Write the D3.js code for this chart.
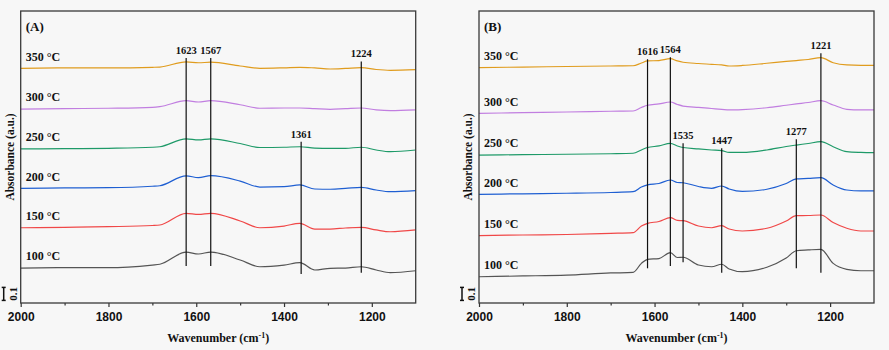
<!DOCTYPE html>
<html>
<head>
<meta charset="utf-8">
<script src="https://cdn.jsdelivr.net/npm/d3@7"></script>
<style>
body { margin: 0; background: #f7f7f7; }
svg { display: block; font-family: "Liberation Serif", "Times New Roman", serif; font-weight: bold; }
</style>
</head>
<body>
<div id="chart"></div>
<script>
const temps = ["100 °C", "150 °C", "200 °C", "250 °C", "300 °C", "350 °C"];
const colors = ["#555555", "#f04848", "#1f5fd2", "#1e9a68", "#c17ee0", "#e09c1e"];

// panel A, absorbance (stacked, a.u.)
const wnA = [2000, 1900, 1800, 1700, 1683, 1623, 1595, 1567, 1500, 1455, 1400, 1364, 1330, 1295, 1260, 1224, 1190, 1158, 1100];
const specA = [
    [0.269, 0.272, 0.272, 0.292, 0.298, 0.391, 0.377, 0.392, 0.331, 0.279, 0.292, 0.310, 0.254, 0.267, 0.269, 0.279, 0.254, 0.233, 0.248],
    [0.579, 0.582, 0.587, 0.596, 0.600, 0.690, 0.681, 0.690, 0.631, 0.579, 0.592, 0.613, 0.569, 0.569, 0.577, 0.582, 0.562, 0.548, 0.562],
    [0.882, 0.885, 0.887, 0.898, 0.902, 0.978, 0.964, 0.979, 0.938, 0.892, 0.895, 0.908, 0.877, 0.875, 0.881, 0.890, 0.869, 0.856, 0.864],
    [1.185, 1.187, 1.190, 1.198, 1.202, 1.262, 1.254, 1.262, 1.227, 1.196, 1.198, 1.202, 1.192, 1.190, 1.190, 1.198, 1.177, 1.164, 1.177],
    [1.492, 1.495, 1.498, 1.505, 1.510, 1.556, 1.546, 1.556, 1.525, 1.498, 1.500, 1.500, 1.495, 1.490, 1.495, 1.500, 1.485, 1.479, 1.485],
    [1.805, 1.808, 1.808, 1.813, 1.815, 1.854, 1.848, 1.852, 1.823, 1.805, 1.809, 1.813, 1.808, 1.800, 1.804, 1.810, 1.796, 1.790, 1.795]
];
// [wavenumber, top, bottom]
const peaksA = [[1623, 1.885, 0.285], [1567, 1.885, 0.285], [1361, 1.241, 0.223], [1224, 1.858, 0.233]];

// panel B
const wnB = [2000, 1900, 1800, 1700, 1649, 1630, 1616, 1590, 1564, 1548, 1535, 1500, 1470, 1447, 1430, 1400, 1344, 1300, 1277, 1250, 1221, 1193, 1162, 1130, 1100];
const specB = [
    [0.202, 0.208, 0.215, 0.231, 0.235, 0.305, 0.336, 0.342, 0.387, 0.350, 0.352, 0.292, 0.279, 0.298, 0.262, 0.241, 0.275, 0.346, 0.402, 0.408, 0.413, 0.305, 0.259, 0.248, 0.248],
    [0.518, 0.523, 0.527, 0.536, 0.541, 0.592, 0.613, 0.627, 0.656, 0.635, 0.633, 0.592, 0.579, 0.595, 0.569, 0.554, 0.575, 0.631, 0.672, 0.673, 0.677, 0.619, 0.575, 0.554, 0.554],
    [0.836, 0.840, 0.844, 0.850, 0.856, 0.892, 0.908, 0.919, 0.946, 0.927, 0.925, 0.896, 0.882, 0.900, 0.877, 0.858, 0.875, 0.919, 0.954, 0.958, 0.964, 0.908, 0.869, 0.862, 0.862],
    [1.138, 1.141, 1.144, 1.148, 1.152, 1.177, 1.196, 1.208, 1.228, 1.208, 1.196, 1.185, 1.177, 1.172, 1.158, 1.158, 1.177, 1.204, 1.215, 1.227, 1.241, 1.202, 1.164, 1.158, 1.156],
    [1.459, 1.464, 1.469, 1.475, 1.477, 1.504, 1.521, 1.531, 1.546, 1.527, 1.515, 1.504, 1.496, 1.490, 1.485, 1.488, 1.502, 1.521, 1.531, 1.542, 1.556, 1.523, 1.490, 1.485, 1.485],
    [1.810, 1.815, 1.819, 1.823, 1.825, 1.846, 1.862, 1.865, 1.879, 1.862, 1.852, 1.842, 1.836, 1.831, 1.823, 1.827, 1.844, 1.858, 1.865, 1.873, 1.887, 1.848, 1.831, 1.828, 1.828]
];
const peaksB = [[1616, 1.875, 0.267], [1564, 1.890, 0.285], [1535, 1.228, 0.313], [1447, 1.190, 0.233], [1277, 1.259, 0.267], [1221, 1.921, 0.233]];

const majorTicks = [2000, 1800, 1600, 1400, 1200];
const minorTicks = [1900, 1700, 1500, 1300];

const W = 889, H = 350;
const plotTop = 11, plotBottom = 303, panelW = 395;

const svg = d3.select("#chart").append("svg")
    .attr("width", W).attr("height", H);

const y = d3.scaleLinear().domain([0, 2.246]).range([plotBottom, plotTop]);

function drawPanel(tag, left, wn, spec, peaks) {
    const g = svg.append("g");
    const x = d3.scaleLinear().domain([2000, 1100]).range([left, left + panelW]);

    // axes
    const ax = g.append("g").attr("transform", `translate(0,${plotBottom})`)
        .call(d3.axisBottom(x).tickValues(majorTicks).tickSize(4).tickSizeOuter(0).tickFormat(d3.format("d")));
    ax.select(".domain").remove();
    ax.selectAll("line").attr("stroke", "#333").attr("stroke-width", 1.2);
    ax.selectAll("text").attr("dy", "0.9em").style("font-size", "12px").style("font-family", "inherit").attr("fill", "#111");

    const mx = g.append("g").attr("transform", `translate(0,${plotBottom})`)
        .call(d3.axisBottom(x).tickValues(minorTicks).tickSize(2.5).tickFormat(""));
    mx.select(".domain").remove();
    mx.selectAll("line").attr("stroke", "#333").attr("stroke-width", 1.2);

    // spectra
    const line = d3.line()
        .x((d, i) => x(wn[i]))
        .y(d => y(d))
        .curve(d3.curveMonotoneX);

    spec.forEach((s, k) => {
        g.append("path")
            .attr("d", line(s))
            .attr("fill", "none")
            .attr("stroke", colors[k])
            .attr("stroke-width", 1.2);
        g.append("text")
            .attr("x", left + 5)
            .attr("y", y(s[0]) - 12)
            .attr("dy", "0.35em")
            .style("font-size", "12px")
            .attr("fill", "#111")
            .text(temps[k]);
    });

    // peak markers
    peaks.forEach(p => {
        g.append("line")
            .attr("x1", x(p[0])).attr("x2", x(p[0]))
            .attr("y1", y(p[1])).attr("y2", y(p[2]))
            .attr("stroke", "#111").attr("stroke-width", 1.2);
        g.append("text")
            .attr("x", x(p[0]))
            .attr("y", y(p[1]) - 4)
            .attr("text-anchor", "middle")
            .style("font-size", "10.5px")
            .attr("fill", "#111")
            .text(p[0]);
    });

    // frame
    g.append("rect")
        .attr("x", left).attr("y", plotTop)
        .attr("width", panelW).attr("height", plotBottom - plotTop)
        .attr("fill", "none").attr("stroke", "#3a3a3a").attr("stroke-width", 1.3);

    g.append("text")
        .attr("x", left + 5).attr("y", plotTop + 15)
        .attr("dy", "0.35em")
        .style("font-size", "13px")
        .attr("fill", "#111")
        .text(tag);

    // axis titles
    const xt = g.append("text")
        .attr("x", left + panelW / 2).attr("y", 342)
        .attr("text-anchor", "middle")
        .style("font-size", "12px")
        .attr("fill", "#111");
    xt.append("tspan").text("Wavenumber (cm");
    xt.append("tspan").attr("dy", -4).style("font-size", "8px").text("-1");
    xt.append("tspan").attr("dy", 4).text(")");

    g.append("text")
        .attr("transform", `translate(${left - 11},157) rotate(-90)`)
        .attr("text-anchor", "middle")
        .attr("dy", "0.35em")
        .style("font-size", "11.5px")
        .attr("fill", "#111")
        .text("Absorbance (a.u.)");

    // 0.1 scale bar
    const bx = left - 17;
    const b0 = y(0.02), b1 = y(0.12);
    g.append("line").attr("x1", bx).attr("x2", bx).attr("y1", b0).attr("y2", b1)
        .attr("stroke", "#111").attr("stroke-width", 1.5);
    [b0, b1].forEach(v => g.append("line")
        .attr("x1", bx - 2).attr("x2", bx + 2).attr("y1", v).attr("y2", v)
        .attr("stroke", "#111").attr("stroke-width", 1.5));
    g.append("text")
        .attr("transform", `translate(${bx + 9},${(b0 + b1) / 2}) rotate(-90)`)
        .attr("text-anchor", "middle")
        .attr("dy", "0.35em")
        .style("font-size", "11px")
        .attr("fill", "#111")
        .text("0.1");
}

drawPanel("(A)", 20.7, wnA, specA, peaksA);
drawPanel("(B)", 479, wnB, specB, peaksB);
</script>
</body>
</html>
